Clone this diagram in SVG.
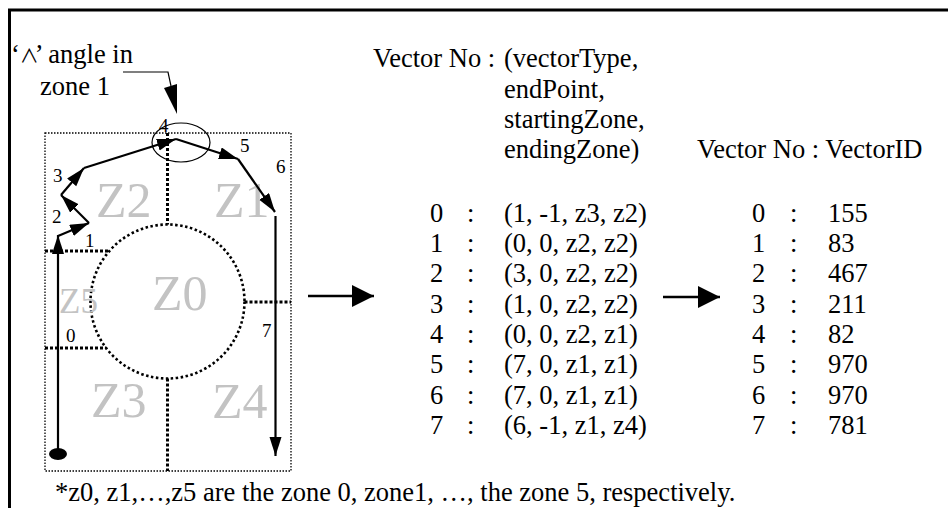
<svg xmlns="http://www.w3.org/2000/svg" width="948" height="508" viewBox="0 0 948 508">
<style>
text{font-family:"Liberation Serif","Times New Roman",serif;fill:#000}
.t{font-size:26.5px}
.s{font-size:19px}
.z{font-size:50px;fill:#c3c3c3}
.heavy{fill:none;stroke:#000;stroke-width:3;stroke-dasharray:3 2}
.thin{fill:none;stroke:#000;stroke-width:1.3;stroke-dasharray:1.5 1.5}
.vec{fill:none;stroke:#000;stroke-width:2.2;marker-end:url(#ah)}
.big{fill:none;stroke:#000;stroke-width:2.5;marker-end:url(#bah)}
.sym{font-family:"Noto Sans CJK JP","DejaVu Serif",serif;font-size:19px;letter-spacing:-4px}
</style>
<defs>
<marker id="ah" markerUnits="userSpaceOnUse" markerWidth="20" markerHeight="13" refX="19" refY="6" orient="auto"><path d="M0,0 L19,6 L0,12 z" fill="#000"/></marker>
<marker id="bah" markerUnits="userSpaceOnUse" markerWidth="23" markerHeight="23" refX="22" refY="11" orient="auto"><path d="M0,0 L22,11 L0,22 z" fill="#000"/></marker>
</defs>
<rect width="948" height="508" fill="#fff"/>
<path id="frame" d="M9.5,508 V10 H948" fill="none" stroke="#000" stroke-width="3"/>

<g id="zone-map">
<rect class="thin" x="45" y="133" width="246" height="338"/>
<circle class="heavy" cx="167.5" cy="301.5" r="77" style="stroke-width:2.6;stroke-dasharray:2.5 2.5"/>
<path class="heavy" d="M167.5,133 V224.5 M167.5,378.5 V471 M45,251 H109.5 M45,348 H106 M244.5,302 H291"/>
<text class="z" x="96" y="217">Z2</text>
<text class="z" x="214" y="217">Z1</text>
<text class="z" x="152" y="310">Z0</text>
<text class="z" x="59" y="313" style="font-size:35px">Z5</text>
<text class="z" x="91" y="417">Z3</text>
<text class="z" x="212" y="418">Z4</text>
</g>

<g id="stroke-vectors">
<ellipse cx="58" cy="454" rx="9" ry="6" fill="#000"/>
<line class="vec" x1="58" y1="454" x2="58" y2="235"/>
<line class="vec" x1="58" y1="236" x2="89" y2="223"/>
<line class="vec" x1="89" y1="223" x2="61" y2="195"/>
<line class="vec" x1="61" y1="195" x2="84" y2="168"/>
<line class="vec" x1="84" y1="168" x2="176" y2="139"/>
<line class="vec" x1="176" y1="139" x2="238" y2="159"/>
<line class="vec" x1="238" y1="159" x2="275" y2="212"/>
<line class="vec" x1="275.5" y1="216" x2="275.5" y2="456"/>
<text class="s" x="66" y="342">0</text>
<text class="s" x="85" y="247">1</text>
<text class="s" x="52" y="223">2</text>
<text class="s" x="53" y="182">3</text>
<text class="s" x="159" y="132">4</text>
<text class="s" x="240" y="152">5</text>
<text class="s" x="276" y="173">6</text>
<text class="s" x="262" y="337">7</text>
</g>

<g id="angle-callout">
<ellipse cx="181" cy="142.5" rx="29" ry="19.5" fill="none" stroke="#000" stroke-width="1.2"/>
<text class="t" x="11" y="63">‘<tspan class="sym">∧</tspan>’ angle in</text>
<text class="t" x="40" y="95">zone 1</text>
<polyline points="123,72 168,72 171,86" fill="none" stroke="#000" stroke-width="1.2"/>
<polygon points="164,88 177,84 177,114" fill="#000"/>
</g>

<g id="table-tuples">
<text class="t" y="67"><tspan x="373">Vector No : </tspan><tspan x="504">(vectorType,</tspan></text>
<text class="t" x="504" y="98">endPoint,</text>
<text class="t" x="504" y="128">startingZone,</text>
<text class="t" x="504" y="158">endingZone)</text>
<text class="t" y="222"><tspan x="430">0</tspan><tspan x="467">:</tspan><tspan x="504">(1, -1, z3, z2)</tspan></text>
<text class="t" y="252"><tspan x="430">1</tspan><tspan x="467">:</tspan><tspan x="504">(0, 0, z2, z2)</tspan></text>
<text class="t" y="282"><tspan x="430">2</tspan><tspan x="467">:</tspan><tspan x="504">(3, 0, z2, z2)</tspan></text>
<text class="t" y="313"><tspan x="430">3</tspan><tspan x="467">:</tspan><tspan x="504">(1, 0, z2, z2)</tspan></text>
<text class="t" y="343"><tspan x="430">4</tspan><tspan x="467">:</tspan><tspan x="504">(0, 0, z2, z1)</tspan></text>
<text class="t" y="373"><tspan x="430">5</tspan><tspan x="467">:</tspan><tspan x="504">(7, 0, z1, z1)</tspan></text>
<text class="t" y="404"><tspan x="430">6</tspan><tspan x="467">:</tspan><tspan x="504">(7, 0, z1, z1)</tspan></text>
<text class="t" y="434"><tspan x="430">7</tspan><tspan x="467">:</tspan><tspan x="504">(6, -1, z1, z4)</tspan></text>
</g>

<g id="table-ids">
<text class="t" x="697" y="158">Vector No : VectorID</text>
<text class="t" y="222"><tspan x="752">0</tspan><tspan x="790">:</tspan><tspan x="828">155</tspan></text>
<text class="t" y="252"><tspan x="752">1</tspan><tspan x="790">:</tspan><tspan x="828">83</tspan></text>
<text class="t" y="282"><tspan x="752">2</tspan><tspan x="790">:</tspan><tspan x="828">467</tspan></text>
<text class="t" y="313"><tspan x="752">3</tspan><tspan x="790">:</tspan><tspan x="828">211</tspan></text>
<text class="t" y="343"><tspan x="752">4</tspan><tspan x="790">:</tspan><tspan x="828">82</tspan></text>
<text class="t" y="373"><tspan x="752">5</tspan><tspan x="790">:</tspan><tspan x="828">970</tspan></text>
<text class="t" y="404"><tspan x="752">6</tspan><tspan x="790">:</tspan><tspan x="828">970</tspan></text>
<text class="t" y="434"><tspan x="752">7</tspan><tspan x="790">:</tspan><tspan x="828">781</tspan></text>
</g>

<g id="connectors">
<line class="big" x1="308" y1="296" x2="374" y2="296"/>
<line class="big" x1="663" y1="297" x2="720" y2="297"/>
</g>

<text id="footnote" class="t" x="55" y="501">*z0, z1,…,z5 are the zone 0, zone1, …, the zone 5, respectively.</text>
</svg>
